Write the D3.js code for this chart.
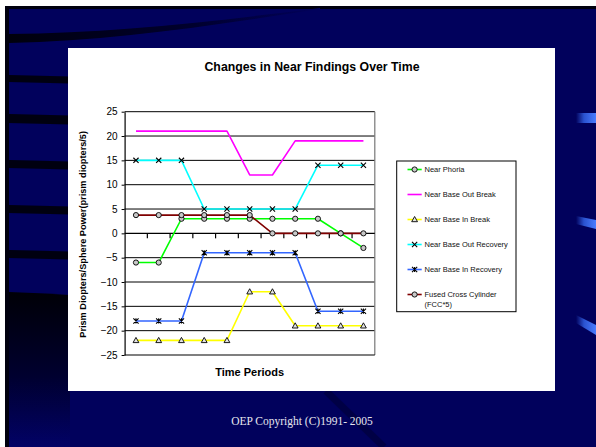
<!DOCTYPE html>
<html>
<head>
<meta charset="utf-8">
<script src="https://cdn.jsdelivr.net/npm/d3@7"></script>
<style>
  html, body { margin: 0; padding: 0; background: #fff; overflow: hidden; }
  svg { display: block; }
</style>
</head>
<body>
<svg id="slide" width="596" height="447"></svg>
<script>
// ---- data ----
const periods = ["1", "2", "3", "4", "5", "6", "7", "8", "9", "10", "11"];
const nearPhoria          = [-6, -6, 3, 3, 3, 3, 3, 3, 3, 0, -3];
const nearBaseOutBreak    = [21, 21, 21, 21, 21, 12, 12, 19, 19, 19, 19];
const nearBaseInBreak     = [-22, -22, -22, -22, -22, -12, -12, -19, -19, -19, -19];
const nearBaseOutRecovery = [15, 15, 15, 5, 5, 5, 5, 5, 14, 14, 14];
const nearBaseInRecovery  = [-18, -18, -18, -4, -4, -4, -4, -4, -16, -16, -16];
const fusedCrossCylinder  = [3.75, 3.75, 3.75, 3.75, 3.75, 3.75, 0, 0, 0, 0, 0];
const yTicks = [25, 20, 15, 10, 5, 0, -5, -10, -15, -20, -25];
const seriesLabels = [
  ["Near Phoria"],
  ["Near Base Out Break"],
  ["Near Base In Break"],
  ["Near Base Out Recovery"],
  ["Near Base In Recovery"],
  ["Fused Cross Cylinder", "(FCC*5)"]
];

const series = [
  { values: nearPhoria,          color: "#00ff00", marker: "circle" },
  { values: nearBaseOutBreak,    color: "#ff00ff", marker: null },
  { values: nearBaseInBreak,     color: "#ffff00", marker: "triangle" },
  { values: nearBaseOutRecovery, color: "#00ffff", marker: "cross" },
  { values: nearBaseInRecovery,  color: "#3366ff", marker: "star" },
  { values: fusedCrossCylinder,  color: "#800000", marker: "circle" }
].map((s, i) => ({ ...s, label: seriesLabels[i] }));

const svg = d3.select("#slide");
const defs = svg.append("defs");

// ---- slide background ----
const navy = "#01015c";
svg.append("rect").attr("x", 0).attr("y", 0).attr("width", 596).attr("height", 447).attr("fill", "#fff");
svg.append("rect").attr("x", 5).attr("y", 6).attr("width", 591).attr("height", 441).attr("fill", navy);

const fadeRight = defs.append("linearGradient").attr("id", "fadeRight")
  .attr("x1", "0").attr("x2", "1").attr("y1", "0").attr("y2", "0");
fadeRight.append("stop").attr("offset", "0").attr("stop-color", "#00000c");
fadeRight.append("stop").attr("offset", "0.6").attr("stop-color", "#00002e");
fadeRight.append("stop").attr("offset", "1").attr("stop-color", navy);

const fadeDown = defs.append("linearGradient").attr("id", "fadeDown")
  .attr("x1", "0").attr("x2", "0").attr("y1", "0").attr("y2", "1");
fadeDown.append("stop").attr("offset", "0").attr("stop-color", "#000006");
fadeDown.append("stop").attr("offset", "0.55").attr("stop-color", "#000030");
fadeDown.append("stop").attr("offset", "1").attr("stop-color", "#020266");

// dark frame edges
svg.append("rect").attr("x", 5).attr("y", 6).attr("width", 591).attr("height", 3).attr("fill", "#00000e");
svg.append("rect").attr("x", 5).attr("y", 6).attr("width", 4).attr("height", 441).attr("fill", "#00000e");

// sweeping band across the top
svg.append("path")
  .attr("d", "M9,34 C110,33 210,22 320,8 L320,9 C210,26 110,41 9,43 Z")
  .attr("fill", "url(#fadeRight)");

// stripes on the left margin
const stripes = [[75, 82], [114, 123], [160, 168], [205, 213], [250, 258]];
svg.selectAll("path.stripe").data(stripes).join("path")
  .attr("class", "stripe")
  .attr("d", d => `M9,${d[0]} Q40,${d[0] + 0.5} 70,${d[0] + 1.5} L70,${d[1] + 1.5} Q40,${d[1] + 0.5} 9,${d[1]} Z`)
  .attr("fill", "#000010");

// darker lower-left block
svg.append("path")
  .attr("d", "M9,292 Q40,293 70,295 L70,447 L9,447 Z")
  .attr("fill", "url(#fadeDown)");

// faint diagonal streak below the chart
svg.append("line").attr("x1", 326).attr("y1", 391).attr("x2", 384).attr("y2", 447)
  .attr("stroke", "#000030").attr("stroke-width", 7).attr("opacity", 0.5);

// blue accents on the right edge
const accent = defs.append("linearGradient").attr("id", "accent")
  .attr("x1", "0").attr("x2", "1").attr("y1", "0").attr("y2", "0");
accent.append("stop").attr("offset", "0").attr("stop-color", navy);
accent.append("stop").attr("offset", "0.4").attr("stop-color", "#2a52d0");
accent.append("stop").attr("offset", "1").attr("stop-color", "#4a7cff");
const accents = [
  "M576,113 L596,113 L596,123 L576,123 Z",
  "M576,216 L596,220 L596,229 L576,224 Z",
  "M576,315 L596,325 L596,335 L576,323 Z"
];
svg.selectAll("path.accent").data(accents).join("path")
  .attr("class", "accent").attr("d", d => d).attr("fill", "url(#accent)");

// footer
svg.append("text")
  .attr("x", 302).attr("y", 425).attr("text-anchor", "middle")
  .attr("font-family", "'Liberation Serif', 'Times New Roman', serif")
  .attr("font-size", 11.5).attr("fill", "#e6e6ee")
  .text("OEP Copyright (C)1991- 2005");

// ---- chart panel ----
svg.append("rect").attr("x", 68).attr("y", 48).attr("width", 487).attr("height", 343).attr("fill", "#fff");

const font = "'Liberation Sans', Arial, Helvetica, sans-serif";

svg.append("text")
  .attr("x", 312).attr("y", 71).attr("text-anchor", "middle")
  .attr("font-family", font).attr("font-weight", "bold").attr("font-size", 12.3)
  .attr("fill", "#000")
  .text("Changes in Near Findings Over Time");

const plot = { left: 124.6, right: 374.8, top: 111.7, bottom: 355 };

const x = d3.scaleBand().domain(periods).range([plot.left, plot.right]).padding(0);
const y = d3.scaleLinear().domain([-25, 25]).range([plot.bottom, plot.top]);
const cx = p => x(p) + x.bandwidth() / 2;

// horizontal gridlines
svg.append("g").selectAll("line").data(yTicks.filter(v => v !== 25 && v !== -25 && v !== 0)).join("line")
  .attr("x1", plot.left).attr("x2", plot.right)
  .attr("y1", d => y(d)).attr("y2", d => y(d))
  .attr("stroke", "#000").attr("stroke-width", 1);

// plot frame
svg.append("line").attr("x1", plot.left).attr("x2", plot.right).attr("y1", plot.top).attr("y2", plot.top)
  .attr("stroke", "#000");
svg.append("line").attr("x1", plot.right).attr("x2", plot.right).attr("y1", plot.top).attr("y2", plot.bottom)
  .attr("stroke", "#777").attr("stroke-width", 1.2);
svg.append("line").attr("x1", plot.left).attr("x2", plot.right).attr("y1", plot.bottom).attr("y2", plot.bottom)
  .attr("stroke", "#000").attr("stroke-width", 1.2);

// value axis
const yAxis = svg.append("g")
  .attr("transform", `translate(${plot.left},0)`)
  .call(d3.axisLeft(y).tickValues(yTicks).tickSize(3).tickSizeOuter(0).tickPadding(4));
yAxis.select(".domain").attr("stroke", "#000").attr("stroke-width", 1.2);
yAxis.selectAll(".tick line").attr("stroke", "#000");
yAxis.selectAll(".tick text")
  .attr("font-family", font).attr("font-size", 10).attr("fill", "#000");

// category axis crossing at zero
const zeroY = y(0);
svg.append("line").attr("x1", plot.left).attr("x2", plot.right).attr("y1", zeroY).attr("y2", zeroY)
  .attr("stroke", "#000").attr("stroke-width", 1.2);
svg.append("g").selectAll("line").data(periods.slice(1)).join("line")
  .attr("x1", d => x(d)).attr("x2", d => x(d))
  .attr("y1", zeroY).attr("y2", zeroY + 5)
  .attr("stroke", "#000").attr("stroke-width", 1.2);

// axis titles
svg.append("text")
  .attr("transform", `translate(86,${(plot.top + plot.bottom) / 2 + 1}) rotate(-90)`)
  .attr("text-anchor", "middle")
  .attr("font-family", font).attr("font-weight", "bold").attr("font-size", 9.2)
  .attr("fill", "#000")
  .text("Prism Diopters/Sphere Power(prism diopters/5)");

svg.append("text")
  .attr("x", (plot.left + plot.right) / 2).attr("y", 376).attr("text-anchor", "middle")
  .attr("font-family", font).attr("font-weight", "bold").attr("font-size", 11)
  .attr("fill", "#000")
  .text("Time Periods");

// ---- markers ----
function drawMarker(g, type, px, py) {
  const s = 2.6;
  if (type === "circle") {
    g.append("circle").attr("cx", px).attr("cy", py).attr("r", s)
      .attr("fill", "#c8c8c8").attr("stroke", "#000").attr("stroke-width", 0.9);
  } else if (type === "triangle") {
    g.append("path")
      .attr("d", `M${px},${py - s - 0.4} L${px + s + 0.3},${py + s - 0.4} L${px - s - 0.3},${py + s - 0.4} Z`)
      .attr("fill", "#e4e4e4").attr("stroke", "#000").attr("stroke-width", 0.9);
  } else if (type === "cross") {
    g.append("path")
      .attr("d", `M${px - s},${py - s} L${px + s},${py + s} M${px + s},${py - s} L${px - s},${py + s}`)
      .attr("stroke", "#000").attr("stroke-width", 1.1).attr("fill", "none");
  } else if (type === "star") {
    g.append("path")
      .attr("d", `M${px - s},${py - s} L${px + s},${py + s} M${px + s},${py - s} L${px - s},${py + s} M${px},${py - s} L${px},${py + s}`)
      .attr("stroke", "#000").attr("stroke-width", 1.1).attr("fill", "none");
  }
}

// ---- series ----
const line = d3.line().x((d, i) => cx(periods[i])).y(d => y(d));
const seriesG = svg.append("g");
series.forEach(s => {
  seriesG.append("path")
    .attr("d", line(s.values))
    .attr("fill", "none").attr("stroke", s.color).attr("stroke-width", 1.6)
    .attr("stroke-linejoin", "round");
});
series.forEach(s => {
  if (!s.marker) return;
  const g = seriesG.append("g");
  s.values.forEach((v, i) => drawMarker(g, s.marker, cx(periods[i]), y(v)));
});

// ---- legend ----
const legend = svg.append("g");
legend.append("rect")
  .attr("x", 396.7).attr("y", 161).attr("width", 119.3).attr("height", 150.7)
  .attr("fill", "#fff").attr("stroke", "#000").attr("stroke-width", 1);

const legendY = d3.scalePoint().domain(d3.range(series.length)).range([169.5, 294.5]);
series.forEach((s, i) => {
  const ly = legendY(i);
  const g = legend.append("g");
  g.append("line").attr("x1", 407.5).attr("x2", 421.7).attr("y1", ly).attr("y2", ly)
    .attr("stroke", s.color).attr("stroke-width", 1.6);
  if (s.marker) drawMarker(g, s.marker, 414.6, ly);
  s.label.forEach((t, j) => {
    g.append("text")
      .attr("x", 424.5).attr("y", ly + 2.7 + j * 10)
      .attr("font-family", font).attr("font-size", 7.5).attr("fill", "#111")
      .text(t);
  });
});
</script>
</body>
</html>
